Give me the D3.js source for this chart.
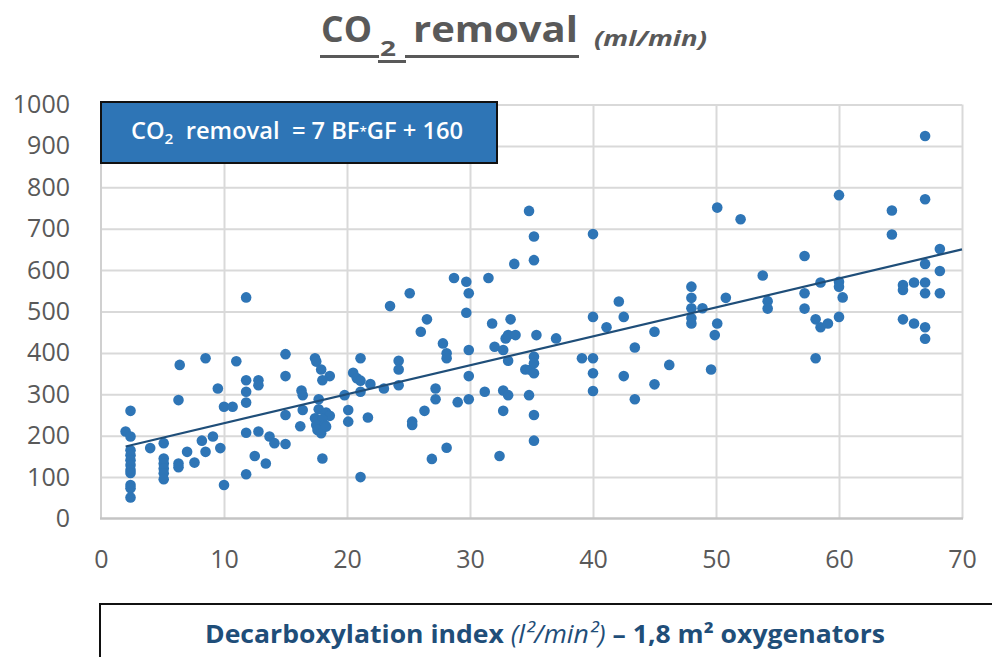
<!DOCTYPE html>
<html>
<head>
<meta charset="utf-8">
<script src="https://cdn.jsdelivr.net/npm/d3@7"></script>
<style>
  body { margin: 0; background: #fff; }
  svg { display: block; font-family: "Open Sans", "Liberation Sans", sans-serif; }
</style>
</head>
<body>
<div id="chart"></div>
<script>
// decarboxylation index (BF*GF) per run
var bfgf = [
	2.0, 2.4, 2.4, 2.4, 2.4, 2.4, 2.4, 2.4, 2.4, 2.4, 2.4, 2.4, 4.0,
	5.1, 5.1, 5.1, 5.1, 5.1, 5.1, 6.3, 6.4, 6.3, 6.3, 7.0, 7.6, 8.2, 8.5, 8.5,
	9.1, 9.5, 9.7, 10.0, 10.0, 10.7, 11.0,
	11.8, 11.8, 11.8, 11.8, 11.8, 11.8, 12.8, 12.8, 12.8, 12.5, 13.4, 13.7, 14.1,
	15.0, 15.0, 15.0, 15.0, 16.2, 16.3, 16.4, 16.4, 17.4, 17.5, 17.9, 18.6, 18.0,
	17.7, 17.7, 18.3, 18.6, 17.4, 18.0, 17.5, 18.2, 17.6, 17.9, 18.3, 18.0, 19.8,
	20.1, 20.1, 20.5, 20.8, 21.1, 21.1, 21.1, 21.1, 21.7, 21.9, 23.0, 23.5,
	24.2, 24.2, 24.2, 25.1, 25.3, 25.3, 26.0, 26.3, 26.5, 26.9, 27.2, 27.2, 27.8,
	28.1, 28.1, 28.1, 28.7, 29.0, 29.7, 29.7, 29.9, 29.9, 29.9, 29.9,
	31.2, 31.5, 31.8, 32.0, 32.4, 32.7, 32.7, 32.7, 32.9, 33.1, 33.7, 33.1, 33.1,
	33.3, 33.6, 34.5, 34.8, 34.8, 34.9, 35.2, 35.2, 35.2, 35.2, 35.2, 35.2, 35.2,
	35.4, 37.0, 39.1,
	40.0, 40.0, 40.0, 40.0, 40.0, 41.1, 42.1, 42.5, 42.5, 43.4, 43.4, 45.0, 45.0,
	46.2, 48.0, 48.0, 48.0, 48.0, 48.0, 48.9, 49.6, 49.9, 50.1, 50.1, 50.8, 52.0,
	53.8, 54.2, 54.2, 57.2, 57.2, 57.2, 58.1, 58.1, 58.5, 58.5, 59.1, 60.0, 60.0,
	60.0, 60.0, 60.3, 64.3, 64.3, 65.2, 65.2, 65.2, 66.1, 66.1, 67.0, 67.0, 67.0,
	67.0, 67.0, 67.0, 67.0, 68.2, 68.2, 68.2
];
// CO2 removal (ml/min), same order
var co2 = [
	210, 198, 260, 165, 153, 141, 129, 117, 110, 81, 73, 51, 170,
	182, 145, 133, 121, 109, 95, 286, 371, 133, 124, 161, 135, 188, 161, 387,
	198, 314, 170, 81, 270, 270, 380,
	534, 334, 306, 280, 207, 107, 334, 322, 210, 151, 133, 198, 182,
	397, 344, 250, 180, 223, 309, 298, 262, 387, 379, 360, 344, 334,
	288, 264, 256, 248, 242, 240, 226, 226, 214, 206, 222, 145, 298,
	262, 234, 352, 339, 333, 387, 306, 100, 244, 325, 314, 513,
	381, 360, 322, 544, 234, 226, 451, 260, 481, 144, 314, 288, 423,
	399, 387, 171, 581, 281, 572, 497, 544, 407, 344, 288,
	306, 581, 471, 415, 151, 407, 309, 260, 435, 443, 443, 381, 298,
	481, 615, 360, 743, 298, 359, 681, 624, 391, 375, 351, 250, 188,
	443, 435, 387,
	687, 487, 387, 351, 308, 462, 524, 487, 344, 413, 288, 451, 324,
	371, 560, 533, 508, 484, 471, 508, 360, 443, 751, 471, 533, 723,
	587, 525, 507, 634, 544, 507, 481, 387, 570, 462, 471, 781, 572,
	560, 487, 534, 744, 686, 564, 552, 481, 570, 471, 924, 771, 615,
	570, 544, 462, 434, 651, 598, 544
];

var xTicks = [0, 10, 20, 30, 40, 50, 60, 70];
var yTicks = [0, 100, 200, 300, 400, 500, 600, 700, 800, 900, 1000];

// linear trend: CO2 = 7 * BFGF + 160
var trendSlope = 7;
var trendIntercept = 160;
var trendFrom = 2.0;
var trendTo = 70;

var width = 992;
var height = 657;
var nb = "\u00A0";

var svg = d3.select("#chart")
	.append("svg")
	.attr("width", width)
	.attr("height", height);

var x = d3.scaleLinear().domain([0, 70]).range([101, 962]);
var y = d3.scaleLinear().domain([0, 1000]).range([518.5, 104.5]);

// gridlines
var grid = svg.append("g").attr("class", "grid");
grid.append("g")
	.attr("transform", "translate(" + x(0) + ",0)")
	.call(d3.axisLeft(y).tickValues(yTicks.slice(1)).tickSize(-(x(70) - x(0))).tickFormat(""))
	.call(function(g) { g.select(".domain").remove(); });
grid.append("g")
	.attr("transform", "translate(0," + y(0) + ")")
	.call(d3.axisBottom(x).tickValues(xTicks.slice(1)).tickSize(-(y(0) - y(1000))).tickFormat(""))
	.call(function(g) { g.select(".domain").remove(); });
grid.selectAll("line")
	.attr("stroke", "#d9d9d9")
	.attr("stroke-width", 2);

// axis lines
svg.append("line")
	.attr("x1", x(0)).attr("x2", x(0))
	.attr("y1", y(1000)).attr("y2", y(0))
	.attr("stroke", "#d0d0d0").attr("stroke-width", 2);
svg.append("line")
	.attr("x1", x(0) - 1).attr("x2", x(70) + 1)
	.attr("y1", y(0)).attr("y2", y(0))
	.attr("stroke", "#c4c4c4").attr("stroke-width", 2.5);

// tick labels
var yAxis = svg.append("g")
	.attr("transform", "translate(" + x(0) + ",0)")
	.call(d3.axisLeft(y).tickValues(yTicks).tickFormat(d3.format("d")).tickSize(0).tickPadding(31));
var xAxis = svg.append("g")
	.attr("transform", "translate(0," + y(0) + ")")
	.call(d3.axisBottom(x).tickValues(xTicks).tickFormat(d3.format("d")).tickSize(0).tickPadding(32));
[yAxis, xAxis].forEach(function(a) {
	a.select(".domain").remove();
	a.selectAll("text")
		.attr("fill", "#595959")
		.style("font-family", "'Open Sans', sans-serif")
		.style("font-size", "25px");
});

// points
svg.append("g")
	.selectAll("circle")
	.data(bfgf)
	.join("circle")
	.attr("cx", function(d) { return x(d); })
	.attr("cy", function(d, i) { return y(co2[i]); })
	.attr("r", 5.3)
	.attr("fill", "#2E75B6");

// trend line
svg.append("line")
	.attr("x1", x(trendFrom))
	.attr("y1", y(trendSlope * trendFrom + trendIntercept))
	.attr("x2", x(trendTo))
	.attr("y2", y(trendSlope * trendTo + trendIntercept))
	.attr("stroke", "#1F4E79")
	.attr("stroke-width", 2.2);

// title
var title = svg.append("g").attr("fill", "#595959").attr("font-weight", "bold");
title.append("text").attr("x", 321).attr("y", 42).attr("font-size", 36)
	.attr("textLength", 51).attr("lengthAdjust", "spacingAndGlyphs").text("CO");
title.append("text").attr("x", 380).attr("y", 56).attr("font-size", 21)
	.attr("textLength", 16).attr("lengthAdjust", "spacingAndGlyphs").text("2");
title.append("text").attr("x", 413).attr("y", 42).attr("font-size", 36)
	.attr("textLength", 165).attr("lengthAdjust", "spacingAndGlyphs").text("removal");
title.append("text").attr("x", 594).attr("y", 46).attr("font-size", 22)
	.attr("font-style", "italic")
	.attr("textLength", 113).attr("lengthAdjust", "spacingAndGlyphs").text("(ml/min)");
title.append("rect").attr("x", 320).attr("y", 55).attr("width", 59).attr("height", 3);
title.append("rect").attr("x", 378).attr("y", 60).attr("width", 28).attr("height", 3);
title.append("rect").attr("x", 405).attr("y", 55).attr("width", 174).attr("height", 3);

// formula box
svg.append("rect")
	.attr("x", 101).attr("y", 102)
	.attr("width", 396).attr("height", 61)
	.attr("fill", "#2E75B6")
	.attr("stroke", "#111").attr("stroke-width", 2);
var formula = svg.append("text")
	.attr("x", 131).attr("y", 139)
	.attr("fill", "#fff")
	.attr("font-size", 23)
	.attr("font-weight", 600)
	.attr("textLength", 332)
	.attr("lengthAdjust", "spacingAndGlyphs");
formula.append("tspan").text("CO");
formula.append("tspan").attr("font-size", 15).attr("dy", 5).text("2");
formula.append("tspan").attr("dy", -5).text(nb + nb + "removal" + nb + nb + "= 7 BF");
formula.append("tspan").attr("font-size", 13).attr("dy", -3).text("*");
formula.append("tspan").attr("dy", 3).text("GF + 160");

// x axis title box
svg.append("rect")
	.attr("x", 100).attr("y", 604)
	.attr("width", 905).attr("height", 70)
	.attr("fill", "#fff")
	.attr("stroke", "#111").attr("stroke-width", 2);
var xt = svg.append("text")
	.attr("x", 205).attr("y", 643)
	.attr("fill", "#1F4E79")
	.attr("font-size", 25)
	.attr("font-weight", "bold")
	.attr("textLength", 680)
	.attr("lengthAdjust", "spacingAndGlyphs");
xt.append("tspan").text("Decarboxylation index ");
xt.append("tspan").attr("font-style", "italic").attr("font-weight", "normal").text("(l²/min²)");
xt.append("tspan").text(" – 1,8 m² oxygenators");
</script>
</body>
</html>
